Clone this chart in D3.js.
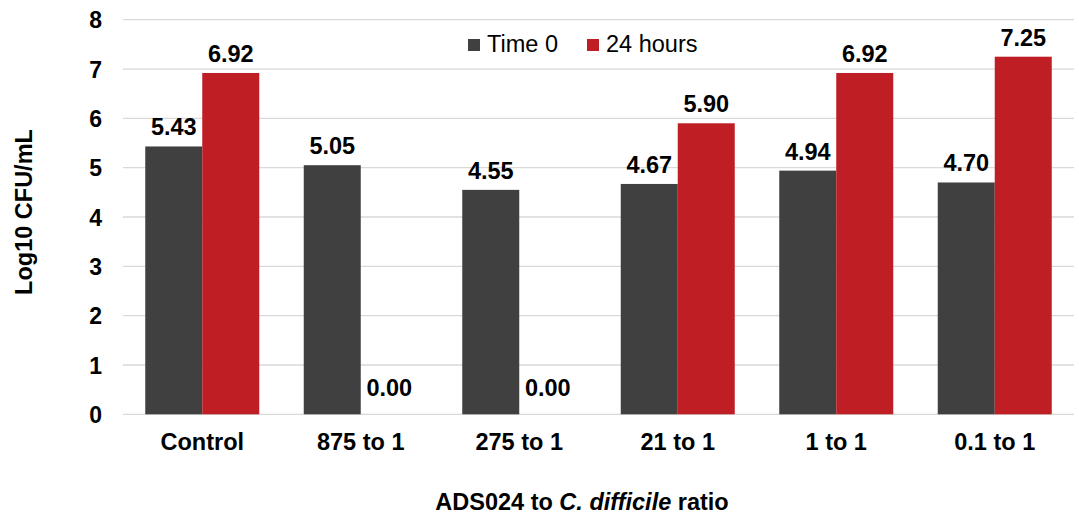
<!DOCTYPE html>
<html>
<head>
<meta charset="utf-8">
<script src="https://cdn.jsdelivr.net/npm/d3@7"></script>
<style>
  body { margin: 0; background: #fff; }
  svg text { font-family: "Liberation Sans", Arial, sans-serif; fill: #000; }
</style>
</head>
<body>
<svg id="chart" width="1079" height="517"></svg>
<script>
const categories = ["Control", "875 to 1", "275 to 1", "21 to 1", "1 to 1", "0.1 to 1"];
const seriesNames = ["Time 0", "24 hours"];
const time0 = [5.43, 5.05, 4.55, 4.67, 4.94, 4.70];
const hours24 = [6.92, 0.00, 0.00, 5.90, 6.92, 7.25];
const yTicks = [0, 1, 2, 3, 4, 5, 6, 7, 8];
const colors = ["#404040", "#BE1E24"];

const svg = d3.select("#chart");
const plot = { left: 123, right: 1074, top: 19.7, bottom: 414.3 };

const x = d3.scaleBand().domain(categories).range([plot.left, plot.right]).paddingInner(0).paddingOuter(0);
const inner = d3.scaleBand().domain(seriesNames).range([0, 114]).padding(0);
const y = d3.scaleLinear().domain([0, 8]).range([plot.bottom, plot.top]);

// gridlines
svg.append("g").selectAll("line").data(yTicks).join("line")
  .attr("x1", plot.left).attr("x2", plot.right)
  .attr("y1", d => y(d)).attr("y2", d => y(d))
  .attr("stroke", "#d9d9d9").attr("stroke-width", 1.3);

// y axis tick labels
const yAxis = d3.axisLeft(y).tickValues(yTicks).tickSize(0).tickPadding(0).tickFormat(d3.format("d"));
const yg = svg.append("g").attr("transform", "translate(102,0)").call(yAxis);
yg.select(".domain").remove();
yg.selectAll("text").attr("font-size", 23).attr("font-weight", "bold")
  .style("font-family", "'Liberation Sans', Arial, sans-serif").attr("fill", "#000").attr("dy", "0.36em");

// bars
const data = categories.map((c, i) => ({ cat: c, vals: [time0[i], hours24[i]] }));
const groups = svg.append("g").selectAll("g").data(data).join("g")
  .attr("transform", d => `translate(${x(d.cat) + x.bandwidth() / 2 - 57},0)`);

groups.selectAll("rect").data(d => d.vals.map((v, k) => ({ v, k })))
  .join("rect")
  .attr("x", d => inner(seriesNames[d.k]))
  .attr("width", inner.bandwidth())
  .attr("y", d => y(d.v))
  .attr("height", d => y(0) - y(d.v))
  .attr("fill", d => colors[d.k]);

groups.selectAll("text").data(d => d.vals.map((v, k) => ({ v, k })))
  .join("text")
  .attr("x", d => inner(seriesNames[d.k]) + inner.bandwidth() / 2)
  .attr("y", d => y(d.v) - (d.v === 0 ? 18 : 11))
  .attr("text-anchor", "middle")
  .attr("font-size", 23.5).attr("font-weight", "bold")
  .text(d => d.v.toFixed(2));

// x axis category labels
const xAxis = d3.axisBottom(x).tickSize(0).tickPadding(0);
const xg = svg.append("g").attr("transform", "translate(0,433)").call(xAxis);
xg.select(".domain").remove();
xg.selectAll("text").attr("font-size", 23.5).attr("font-weight", "bold")
  .style("font-family", "'Liberation Sans', Arial, sans-serif").attr("fill", "#000").attr("dy", "0.71em");

// legend
const legend = svg.append("g");
const legendX = [468, 587];
seriesNames.forEach((s, i) => {
  legend.append("rect").attr("x", legendX[i]).attr("y", 39).attr("width", 12).attr("height", 12).attr("fill", colors[i]);
  legend.append("text").attr("x", legendX[i] + 19).attr("y", 52).attr("font-size", 23.5).text(s);
});

// axis titles
const xt = svg.append("text").attr("x", 582).attr("y", 510).attr("text-anchor", "middle")
  .attr("font-size", 23.5).attr("font-weight", "bold");
xt.append("tspan").text("ADS024 to ");
xt.append("tspan").attr("font-style", "italic").text("C. difficile");
xt.append("tspan").text(" ratio");

svg.append("text").attr("transform", "translate(32,212) rotate(-90)").attr("text-anchor", "middle")
  .attr("font-size", 23.5).attr("font-weight", "bold").text("Log10 CFU/mL");
</script>
</body>
</html>
